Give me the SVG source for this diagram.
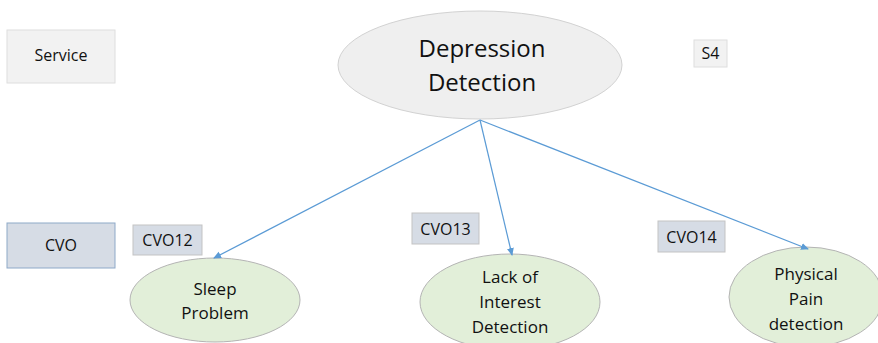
<svg xmlns="http://www.w3.org/2000/svg" width="878" height="343" viewBox="0 0 878 343">
<defs>
<marker id="ah" markerWidth="8" markerHeight="8" refX="7" refY="4" orient="auto" markerUnits="userSpaceOnUse">
<path d="M0,0.5 L8,4 L0,7.5 Z" fill="#5b9bd5"/>
</marker>
</defs>
<style>
text{font-family:"Open Sans","Liberation Sans",sans-serif;fill:#111111;text-anchor:middle}
.lbl{fill:#f2f2f2;stroke:#dedede;stroke-width:1}
.tag{fill:#d6dce5;stroke:#c3c3c3;stroke-width:1}
.green{fill:#e2efd9;stroke:#b4b4b4;stroke-width:1}
.conn{stroke:#5b9bd5;stroke-width:1.2;fill:none;marker-end:url(#ah)}
.s{font-size:16px}
.m{font-size:17px}
</style>
<rect width="878" height="343" fill="#ffffff"/>
<g id="service"><rect class="lbl" x="7" y="30" width="108" height="53"/><text class="s" x="61" y="61">Service</text></g>
<g id="depression"><ellipse cx="480" cy="65" rx="142" ry="54" fill="#efefef" stroke="#d2d2d2"/><text x="482" y="57" font-size="24">Depression</text><text x="482" y="91" font-size="24">Detection</text></g>
<g id="s4"><rect class="lbl" x="694" y="40" width="33" height="27"/><text class="s" x="710.5" y="59">S4</text></g>
<g id="cvo"><rect x="7" y="223" width="108" height="45" fill="#d6dce5" stroke="#8ea9c8"/><text class="s" x="61" y="251">CVO</text></g>
<g id="cvo12"><rect class="tag" x="133" y="225" width="69" height="30"/><text class="s" x="167.5" y="246">CVO12</text></g>
<g id="cvo13"><rect class="tag" x="412" y="213" width="67" height="31"/><text class="s" x="445.5" y="235">CVO13</text></g>
<g id="cvo14"><rect class="tag" x="658" y="221" width="67" height="31"/><text class="s" x="691.5" y="243">CVO14</text></g>
<g id="sleep"><ellipse class="green" cx="215" cy="300" rx="85" ry="42"/><text class="m" x="215" y="295">Sleep</text><text class="m" x="215" y="319">Problem</text></g>
<g id="lack"><ellipse class="green" cx="510" cy="302" rx="90" ry="48"/><text class="m" x="510" y="283">Lack of</text><text class="m" x="510" y="308">Interest</text><text class="m" x="510" y="333">Detection</text></g>
<g id="physical"><ellipse class="green" cx="806" cy="297" rx="77" ry="50"/><text class="m" x="806" y="280">Physical</text><text class="m" x="806" y="305">Pain</text><text class="m" x="806" y="330">detection</text></g>
<g id="connectors">
<line class="conn" x1="480" y1="120" x2="214" y2="258"/>
<line class="conn" x1="480" y1="120" x2="512" y2="255"/>
<line class="conn" x1="480" y1="120" x2="808" y2="249"/>
</g>
</svg>
